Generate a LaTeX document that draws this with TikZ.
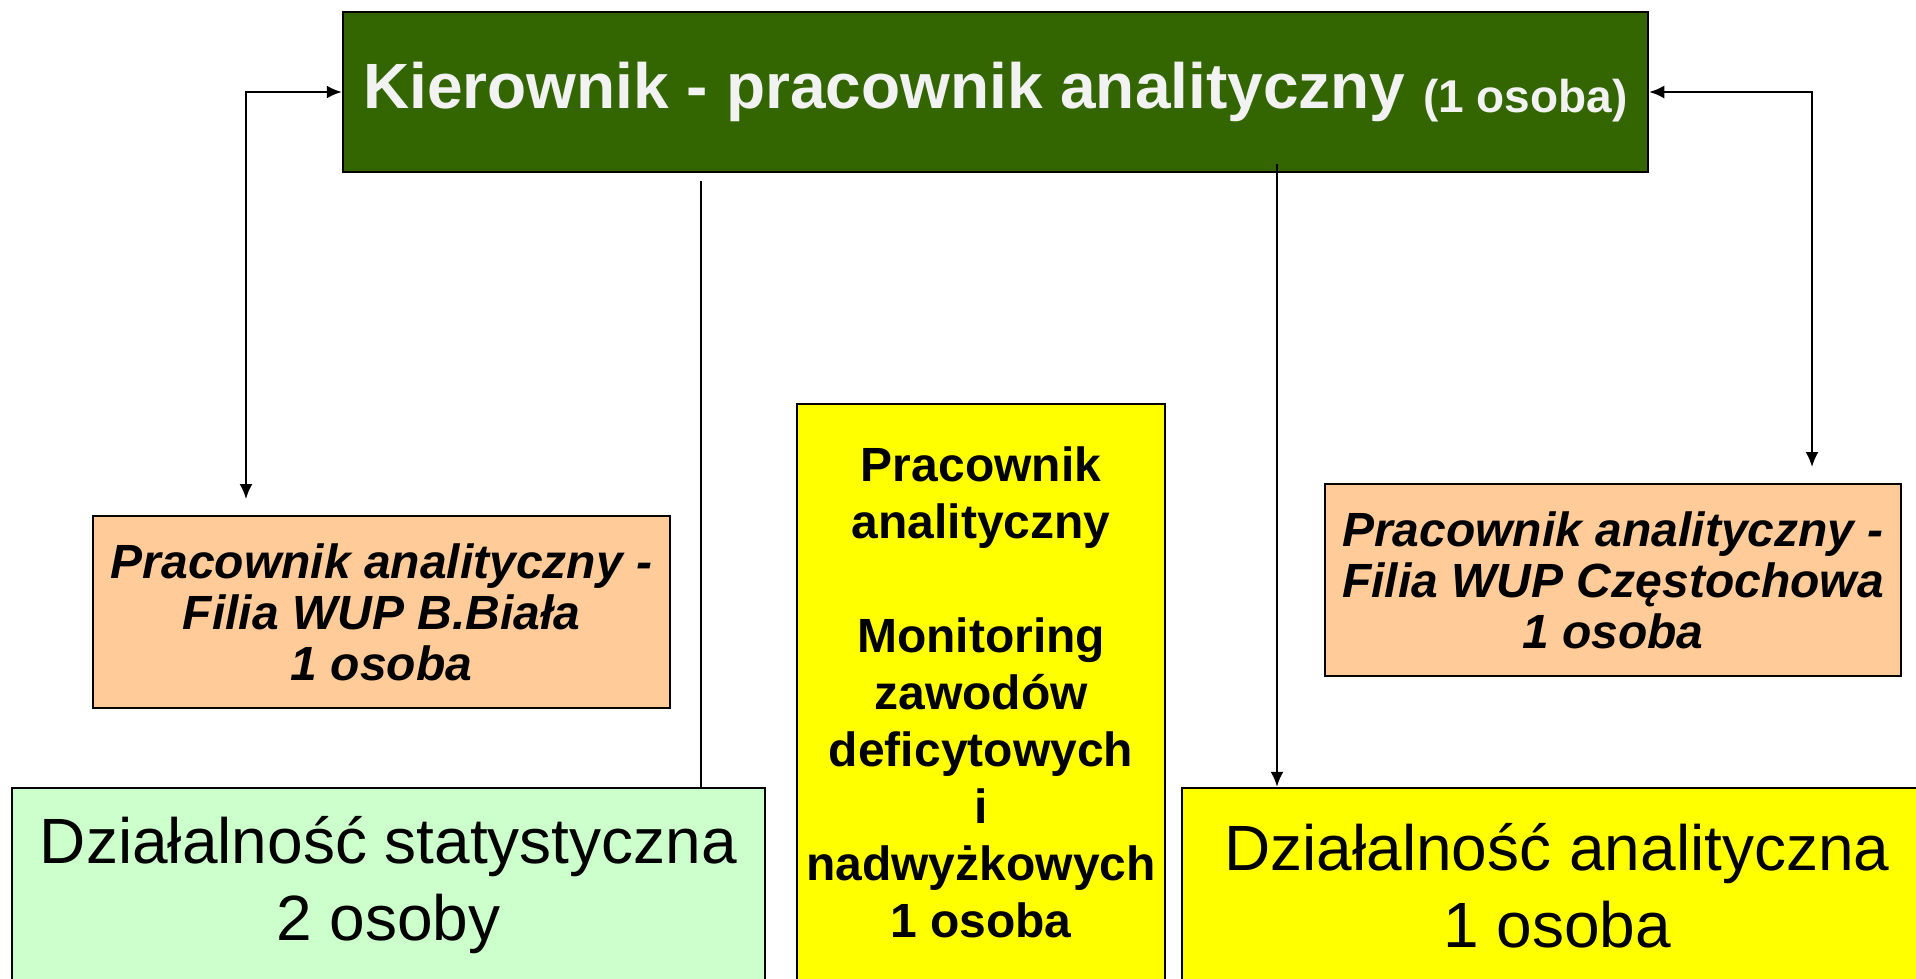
\documentclass[tikz,border=0pt]{standalone}
\usepackage{fontspec}
\setmainfont{Liberation Sans}
\usetikzlibrary{arrows.meta}
\definecolor{topgreen}{HTML}{336600}
\definecolor{toptext}{HTML}{F2F2F2}
\definecolor{peach}{HTML}{FFCC99}
\definecolor{mint}{HTML}{CCFFCC}
\definecolor{brightyellow}{HTML}{FFFF00}
\tikzset{
  boxbase/.style={draw=black, line width=2.5pt, inner sep=0pt, align=center},
  topbox/.style={boxbase, fill=topgreen, text=toptext, font=\fontsize{64}{74}\selectfont\bfseries},
  filiabox/.style={boxbase, fill=peach, font=\fontsize{48}{51}\selectfont\bfseries\itshape},
  midbox/.style={boxbase, fill=brightyellow, font=\fontsize{48}{57}\selectfont\bfseries},
  bottombox/.style={boxbase, font=\fontsize{64}{77}\selectfont},
  conn/.style={draw=black, line width=2pt},
  tip/.tip={Latex[length=15pt,width=13pt]}
}
\begin{document}
\begin{tikzpicture}[x=1pt,y=-1pt]
\useasboundingbox (0,0) rectangle (1916,978);
\clip (0,0) rectangle (1916,978);
\fill[white] (0,0) rectangle (1916,978);

\node[topbox, minimum width=1305pt, minimum height=160pt] (tb) at (995.5,92)
  {Kierownik - pracownik analityczny \raisebox{-4pt}{\fontsize{46}{54}\selectfont(1 osoba)}};

\node[filiabox, minimum width=577pt, minimum height=192pt] (lo) at (381.5,612)
  {Pracownik analityczny -\\ Filia WUP B.Biała\\1 osoba};

\node[filiabox, minimum width=576pt, minimum height=192pt] (ro) at (1613,580)
  {Pracownik analityczny -\\ Filia WUP Częstochowa\\1 osoba};

\node[midbox, minimum width=368pt, minimum height=576pt] (ym) at (981,692)
  {Pracownik\\analityczny\\~\\Monitoring\\zawodów\\deficytowych\\i\\nadwyżkowych\\1 osoba};

\node[bottombox, fill=mint, minimum width=753pt, minimum height=195pt] (gl) at (388.5,885.5)
  {Działalność statystyczna\\2 osoby};

\node[bottombox, fill=brightyellow, minimum width=750pt, minimum height=195pt] (yr) at (1557,885.5)
  {Działalność analityczna\\1 osoba};

\coordinate (lend) at (246,499);
\coordinate (rend) at (1812,467);
\coordinate (ltop) at (701,181);
\coordinate (rtop) at (1277,164);

\draw[conn, tip-tip] (tb.west) -| (lend);
\draw[conn, tip-tip] (tb.east) -| (rend);
\draw[conn] (ltop) -- (ltop |- gl.north);
\draw[conn, -tip] (rtop) -- (rtop |- yr.north);
\end{tikzpicture}
\end{document}
